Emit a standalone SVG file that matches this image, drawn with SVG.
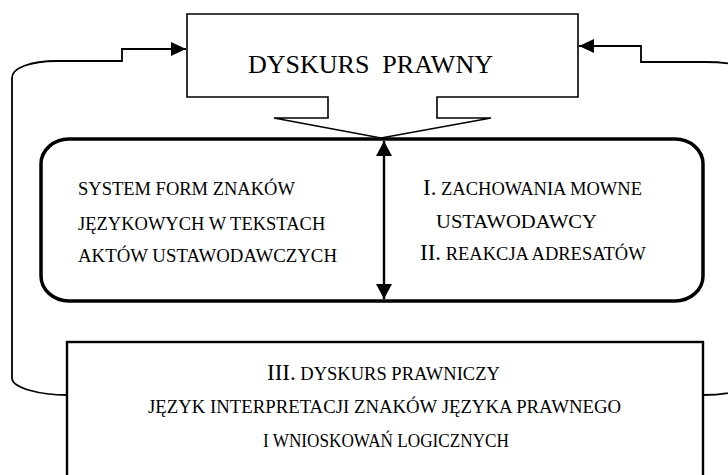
<svg xmlns="http://www.w3.org/2000/svg" width="728" height="475" viewBox="0 0 728 475">
  <style>
    .txt { font-family: "Liberation Serif", "Times New Roman", serif; fill: #000; }
    .title { font-size: 26px; }
    .body { font-size: 18.5px; }
    .num { font-size: 23px; }
    .thin { fill: #fff; stroke: #000; stroke-width: 1.6; }
    .frame { fill: #fff; stroke: #000; stroke-width: 3.5; }
    .box { fill: #fff; stroke: #000; stroke-width: 2.4; }
    .link { fill: none; stroke: #000; stroke-width: 1.8; }
  </style>
  <defs>
    <marker id="head" markerUnits="userSpaceOnUse" markerWidth="16" markerHeight="16" refX="15" refY="7" orient="auto">
      <path d="M0,0 L15,7 L0,14 Z" fill="#000"/>
    </marker>
    <marker id="headBig" markerUnits="userSpaceOnUse" markerWidth="17" markerHeight="18" refX="15" refY="8" orient="auto-start-reverse">
      <path d="M0,0 L15,8 L0,16 Z" fill="#000"/>
    </marker>
  </defs>

  <rect width="728" height="475" fill="#fff"/>

  <!-- feedback loops from the bottom box back to the top box -->
  <g id="connectors">
    <path class="link" d="M67,395 C40,395 12,388 12,378 V78 C12,68 30,61 57,61 H122 V49 H186" marker-end="url(#head)"/>
    <path class="link" d="M703,395 C730,395 758,388 758,378 V78 C758,68 735,62 705,62 H641 V46 H579" marker-end="url(#head)"/>
  </g>

  <!-- middle rounded frame -->
  <g id="middle">
    <rect class="frame" x="41" y="139" width="662" height="162" rx="28" ry="25"/>
    <text class="txt body" x="78" y="195">SYSTEM FORM ZNAKÓW</text>
    <text class="txt body" x="78" y="230">JĘZYKOWYCH W TEKSTACH</text>
    <text class="txt body" x="78" y="262" textLength="259" lengthAdjust="spacingAndGlyphs">AKTÓW USTAWODAWCZYCH</text>
    <text class="txt" x="423" y="195"><tspan class="num">I.</tspan><tspan class="body"> ZACHOWANIA MOWNE</tspan></text>
    <text class="txt body" x="436" y="228" textLength="161" lengthAdjust="spacingAndGlyphs">USTAWODAWCY</text>
    <text class="txt" x="420" y="260"><tspan class="num">II.</tspan><tspan class="body"> REAKCJA ADRESATÓW</tspan></text>
  </g>

  <!-- top callout box -->
  <g id="top">
    <path class="thin" d="M187,14 H578 V97 H437 V118 H491 L381,138 L274,118 H328 V97 H187 Z"/>
    <text class="txt title" x="248" y="73" xml:space="preserve">DYSKURS  PRAWNY</text>
  </g>

  <!-- two-way link between the halves of the frame -->
  <g id="axis">
    <line x1="384" y1="141" x2="384" y2="299" stroke="#000" stroke-width="2.4" marker-start="url(#headBig)" marker-end="url(#headBig)"/>
  </g>

  <!-- bottom box -->
  <g id="bottom">
    <rect class="box" x="67" y="342" width="636" height="150"/>
    <text class="txt" x="267" y="380"><tspan class="num">III.</tspan><tspan class="body"> DYSKURS PRAWNICZY</tspan></text>
    <text class="txt body" x="148" y="413" textLength="473" lengthAdjust="spacingAndGlyphs">JĘZYK INTERPRETACJI ZNAKÓW JĘZYKA PRAWNEGO</text>
    <text class="txt body" x="263" y="447" textLength="246" lengthAdjust="spacingAndGlyphs">I WNIOSKOWAŃ LOGICZNYCH</text>
  </g>
</svg>
